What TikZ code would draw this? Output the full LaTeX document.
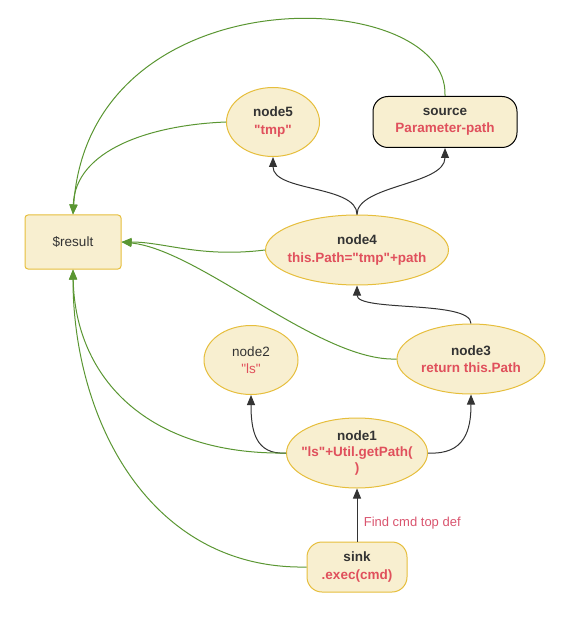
\documentclass[tikz,border=0pt]{standalone}
\usepackage{fontspec}
\setmainfont{Liberation Sans}[Ligatures=TeXOff]
\usetikzlibrary{shapes.geometric,arrows.meta}
\definecolor{cream}{HTML}{F8EFD0}
\definecolor{gold}{HTML}{E6BE3C}
\definecolor{txt}{HTML}{333333}
\definecolor{redt}{HTML}{E0505C}
\definecolor{lbl}{HTML}{D9546E}
\definecolor{grn}{HTML}{5A9632}
\tikzset{
  ell/.style={ellipse, draw=gold, fill=cream, line width=1pt, inner sep=0pt, align=center, text=txt},
  pill/.style={rectangle, rounded corners=15pt, fill=cream, line width=1pt, inner sep=0pt, align=center, text=txt},
  blk/.style={draw=txt, line width=1pt, -{Triangle[length=10pt,width=8pt]}},
  gr/.style={draw=grn, line width=1pt, -{Triangle[length=10pt,width=8pt]}, color=grn},
}
\begin{document}
\begin{tikzpicture}[x=1pt,y=-1pt,font=\fontsize{13.5}{17.5}\selectfont]
\useasboundingbox (0,0) rectangle (569,617);
\node[ell, minimum width=93, minimum height=69] (n5) at (273,122) {\textbf{node5}\\\textcolor{redt}{\textbf{"tmp"}}};
\node[pill, draw=black, minimum width=144, minimum height=51] (src) at (445,122) {\textbf{source}\\\textcolor{redt}{\textbf{Parameter-path}}};
\node[rectangle, rounded corners=3pt, draw=gold, fill=cream, line width=1pt, minimum width=96, minimum height=54, text=txt] (res) at (73,242) {\$result};
\node[ell, inner sep=-12pt, minimum width=183, minimum height=70] (n4) at (357,250) {\textbf{node4}\\\textcolor{redt}{\textbf{this.Path="tmp"+path}}};
\node[ell, minimum width=94, minimum height=69] (n2) at (251,360) {node2\\\textcolor{redt}{"ls"}};
\node[ell, minimum width=148, minimum height=70] (n3) at (471,359) {\textbf{node3}\\\textcolor{redt}{\textbf{return this.Path}}};
\node[ell, inner sep=-12pt, minimum width=141, minimum height=70, font=\fontsize{13.5}{16}\selectfont] (n1) at (357,453) {\textbf{node1}\\\textcolor{redt}{\textbf{"ls"+Util.getPath(}}\\\textcolor{redt}{\textbf{)}}};
\node[pill, draw=gold, minimum width=100, minimum height=50] (sink) at (357,567) {\textbf{sink}\\\textcolor{redt}{\textbf{.exec(cmd)}}};

% black edges
\draw[blk] (sink.north) -- node[pos=0.35, anchor=west, xshift=3pt, text=lbl, font=\fontsize{13}{15}\selectfont] {Find cmd top def} (n1.south);
\draw[blk] (n1.west) .. controls (255,455) and (251,430) .. (n2.south);
\draw[blk] (n1.east) .. controls (465,455) and (471,430) .. (n3.south);
\draw[blk] (n3.north) .. controls (471,300) and (357,312) .. (n4.south);
\draw[blk] (n4.north) .. controls (357,185) and (273,192) .. (n5.south);
\draw[blk] (n4.north) .. controls (357,185) and (445,185) .. (src.south);

% green edges
\draw[gr] (src.north) .. controls (450,-15) and (90,-30) .. (res.north);
\draw[gr] (n5.west) .. controls (150,125) and (75,150) .. (res.north);
\draw[gr] (n4.west) .. controls (200,258) and (165,242) .. (res.east);
\draw[gr] (n3.west) .. controls (320,362) and (200,250) .. (res.east);
\draw[gr] (n1.west) .. controls (150,455) and (75,380) .. (res.south);
\draw[gr] (sink.west) .. controls (150,570) and (73,420) .. (res.south);
\end{tikzpicture}
\end{document}
